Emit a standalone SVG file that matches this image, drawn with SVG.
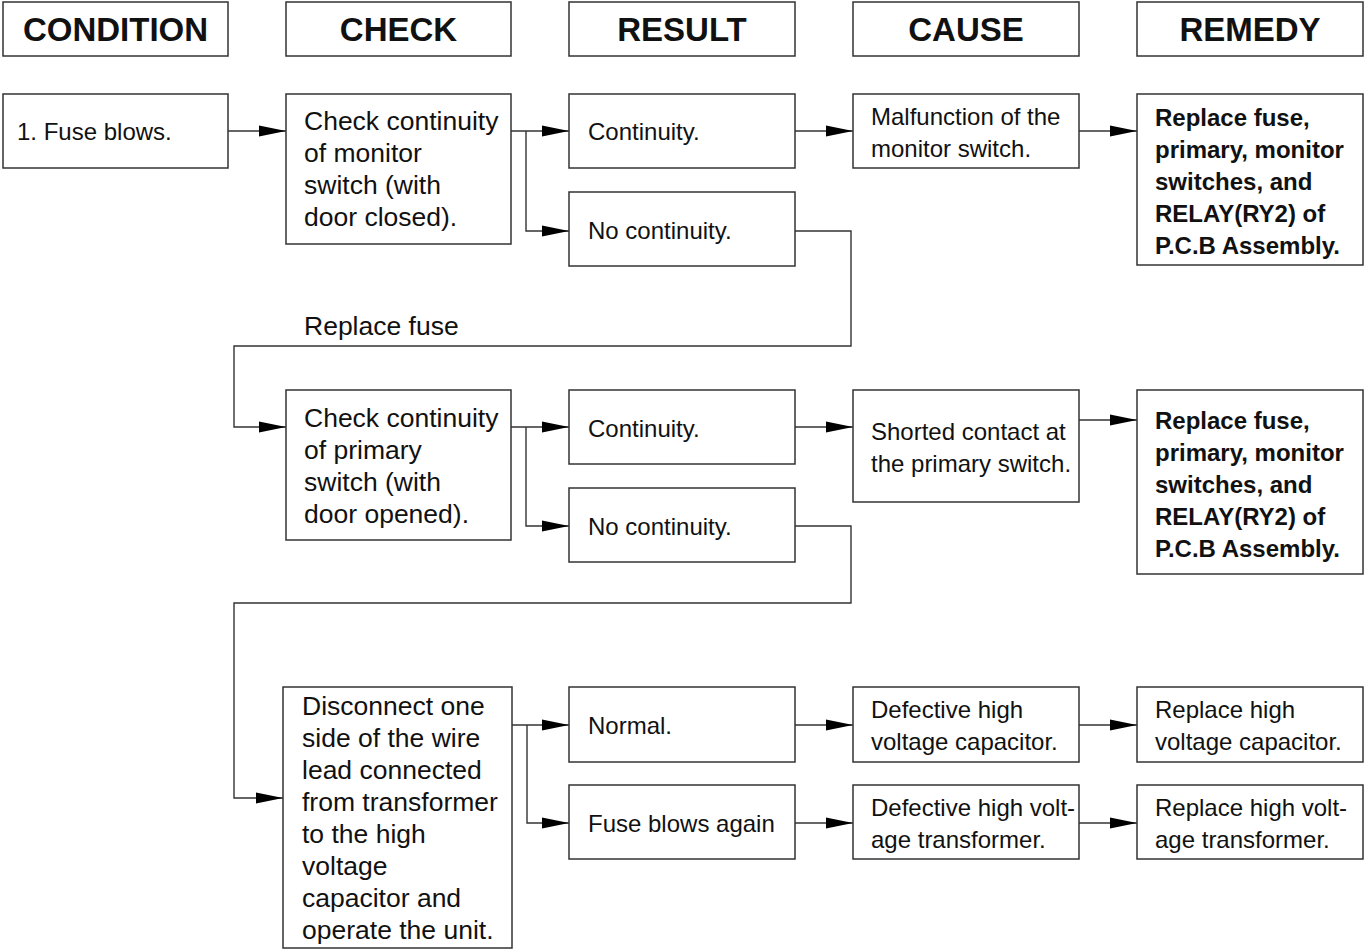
<svg xmlns="http://www.w3.org/2000/svg" width="1367" height="950" viewBox="0 0 1367 950">
<defs>
<marker id="ah" markerUnits="userSpaceOnUse" markerWidth="28" markerHeight="14" refX="27" refY="7" orient="auto">
<path d="M0,1.5 L27,7 L0,12.5 Z" fill="#000"/>
</marker>
<style>
rect{fill:#fff;stroke:#333;stroke-width:1.5}
text{font-family:"Liberation Sans",Arial,Helvetica,sans-serif;fill:#111;font-size:24px}
.h{font-weight:bold;font-size:33px;text-anchor:middle}
.k{font-size:26.5px}
.b{font-weight:bold}
#connectors path{fill:none;stroke:#333;stroke-width:1.4}
.a{marker-end:url(#ah)}
</style>
</defs>
<rect x="0" y="0" width="1367" height="950" style="stroke:none;fill:#fff"/>
<g id="headers">
<g id="h-condition"><rect x="3" y="2" width="225" height="54"/><text class="h" x="115.5" y="41">CONDITION</text></g>
<g id="h-check"><rect x="286" y="2" width="225" height="54"/><text class="h" x="398.5" y="41">CHECK</text></g>
<g id="h-result"><rect x="569" y="2" width="226" height="54"/><text class="h" x="682" y="41">RESULT</text></g>
<g id="h-cause"><rect x="853" y="2" width="226" height="54"/><text class="h" x="966" y="41">CAUSE</text></g>
<g id="h-remedy"><rect x="1137" y="2" width="226" height="54"/><text class="h" x="1250" y="41">REMEDY</text></g>
</g>
<g id="connectors">
<path class="a" d="M228,131 H286"/>
<path class="a" d="M511,131 H569"/>
<path class="a" d="M526,131 V231 H569"/>
<path class="a" d="M795,131 H853"/>
<path class="a" d="M1079,131 H1137"/>
<path class="a" d="M795,231 H851 V346 H234 V427 H286"/>
<path class="a" d="M511,427 H569"/>
<path class="a" d="M526,427 V526 H569"/>
<path class="a" d="M795,427 H853"/>
<path class="a" d="M1079,420 H1137"/>
<path class="a" d="M795,526 H851 V603 H234 V798 H283"/>
<path class="a" d="M512,725 H569"/>
<path class="a" d="M527,725 V823 H569"/>
<path class="a" d="M795,725 H853"/>
<path class="a" d="M795,823 H853"/>
<path class="a" d="M1079,725 H1137"/>
<path class="a" d="M1079,823 H1137"/>
</g>
<g id="n-fuse-blows"><rect x="3" y="94" width="225" height="74"/><text x="17" y="140">1. Fuse blows.</text></g>
<g id="n-check-monitor"><rect x="286" y="94" width="225" height="150"/>
<text class="k" x="304" y="130">Check continuity</text>
<text class="k" x="304" y="162">of monitor</text>
<text class="k" x="304" y="194">switch (with</text>
<text class="k" x="304" y="226">door closed).</text></g>
<g id="n-continuity-1"><rect x="569" y="94" width="226" height="74"/><text x="588" y="140">Continuity.</text></g>
<g id="n-nocontinuity-1"><rect x="569" y="192" width="226" height="74"/><text x="588" y="239">No continuity.</text></g>
<g id="n-malfunction"><rect x="853" y="94" width="226" height="74"/>
<text x="871" y="125">Malfunction of the</text>
<text x="871" y="157">monitor switch.</text></g>
<g id="n-remedy-1"><rect x="1137" y="94" width="226" height="171"/>
<text class="b" x="1155" y="126">Replace fuse,</text>
<text class="b" x="1155" y="158">primary, monitor</text>
<text class="b" x="1155" y="190">switches, and</text>
<text class="b" x="1155" y="222">RELAY(RY2) of</text>
<text class="b" x="1155" y="254">P.C.B Assembly.</text></g>
<g id="l-replace-fuse"><text class="k" x="304" y="335">Replace fuse</text></g>
<g id="n-check-primary"><rect x="286" y="390" width="225" height="150"/>
<text class="k" x="304" y="427">Check continuity</text>
<text class="k" x="304" y="459">of primary</text>
<text class="k" x="304" y="491">switch (with</text>
<text class="k" x="304" y="523">door opened).</text></g>
<g id="n-continuity-2"><rect x="569" y="390" width="226" height="74"/><text x="588" y="437">Continuity.</text></g>
<g id="n-nocontinuity-2"><rect x="569" y="488" width="226" height="74"/><text x="588" y="535">No continuity.</text></g>
<g id="n-shorted"><rect x="853" y="390" width="226" height="112"/>
<text x="871" y="440">Shorted contact at</text>
<text x="871" y="472">the primary switch.</text></g>
<g id="n-remedy-2"><rect x="1137" y="390" width="226" height="184"/>
<text class="b" x="1155" y="429">Replace fuse,</text>
<text class="b" x="1155" y="461">primary, monitor</text>
<text class="b" x="1155" y="493">switches, and</text>
<text class="b" x="1155" y="525">RELAY(RY2) of</text>
<text class="b" x="1155" y="557">P.C.B Assembly.</text></g>
<g id="n-disconnect"><rect x="283" y="687" width="229" height="261"/>
<text class="k" x="302" y="715">Disconnect one</text>
<text class="k" x="302" y="747">side of the wire</text>
<text class="k" x="302" y="779">lead connected</text>
<text class="k" x="302" y="811">from transformer</text>
<text class="k" x="302" y="843">to the high</text>
<text class="k" x="302" y="875">voltage</text>
<text class="k" x="302" y="907">capacitor and</text>
<text class="k" x="302" y="939">operate the unit.</text></g>
<g id="n-normal"><rect x="569" y="687" width="226" height="75"/><text x="588" y="734">Normal.</text></g>
<g id="n-fuse-again"><rect x="569" y="785" width="226" height="74"/><text x="588" y="832">Fuse blows again</text></g>
<g id="n-def-cap"><rect x="853" y="687" width="226" height="75"/>
<text x="871" y="718">Defective high</text>
<text x="871" y="750">voltage capacitor.</text></g>
<g id="n-def-trans"><rect x="853" y="785" width="226" height="74"/>
<text x="871" y="816">Defective high volt-</text>
<text x="871" y="848">age transformer.</text></g>
<g id="n-rep-cap"><rect x="1137" y="687" width="226" height="75"/>
<text x="1155" y="718">Replace high</text>
<text x="1155" y="750">voltage capacitor.</text></g>
<g id="n-rep-trans"><rect x="1137" y="785" width="226" height="74"/>
<text x="1155" y="816">Replace high volt-</text>
<text x="1155" y="848">age transformer.</text></g>
</svg>
